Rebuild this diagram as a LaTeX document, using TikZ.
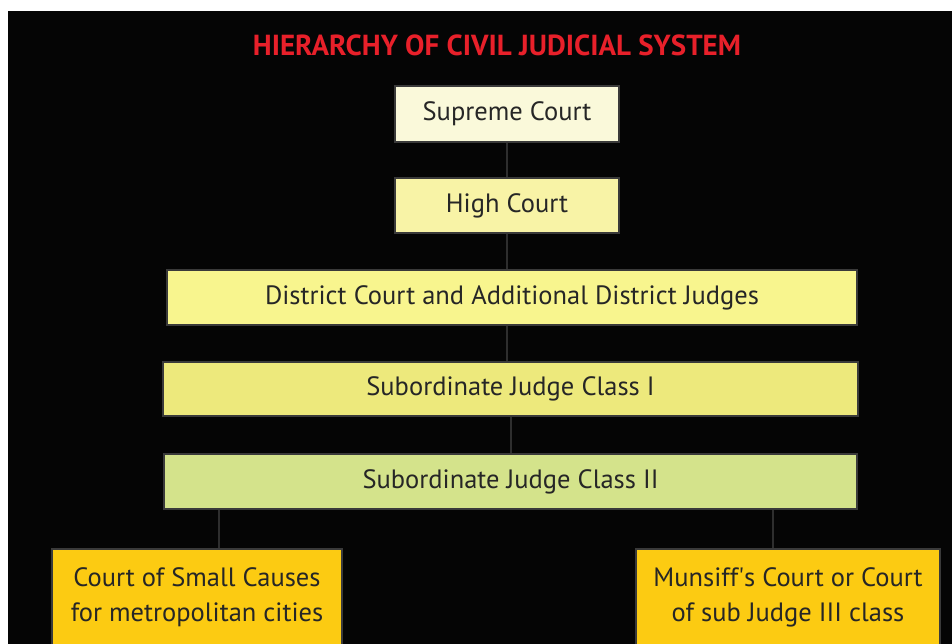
\documentclass[tikz,border=0pt]{standalone}
\usepackage{fontspec}
\setmainfont{PT Sans}
\begin{document}
\begin{tikzpicture}[x=1pt,y=-1pt,
  court/.style={draw=boxedge, line width=1.6pt, inner sep=0pt, align=center,
    text=textdark, font=\fontsize{26.5}{35}\selectfont},
  link/.style={draw=linkgray, line width=2pt}]
\definecolor{boxedge}{HTML}{3A3A3A}
\definecolor{linkgray}{HTML}{2E2E2E}
\definecolor{textdark}{HTML}{262626}
\definecolor{cSupreme}{HTML}{FAF9DA}
\definecolor{cHigh}{HTML}{F8F3A6}
\definecolor{cDistrict}{HTML}{F8F58E}
\definecolor{cSubOne}{HTML}{EDE97C}
\definecolor{cSubTwo}{HTML}{D4E38B}
\definecolor{cLower}{HTML}{FCCB12}
\definecolor{titlered}{HTML}{E8202A}
\useasboundingbox (0,0) rectangle (952,644);
\fill[white] (0,0) rectangle (952,644);
\fill[black!98] (8,11) rectangle (952,644);

\node[font=\bfseries\fontsize{29}{34}\selectfont, text=titlered, inner sep=0pt]
  (title) at (497,45) {HIERARCHY OF CIVIL JUDICIAL SYSTEM};

\node[court, fill=cSupreme, minimum width=224, minimum height=56] (sup) at (507,114) {Supreme Court};
\node[court, fill=cHigh, minimum width=224, minimum height=55] (high) at (507,205.5) {High Court};
\node[court, fill=cDistrict, minimum width=690, minimum height=55] (dist) at (512,297.5) {District Court and Additional District Judges};
\node[court, fill=cSubOne, minimum width=695, minimum height=54] (subone) at (510.5,389) {Subordinate Judge Class I};
\node[court, fill=cSubTwo, minimum width=693, minimum height=55] (subtwo) at (510.5,481.5) {Subordinate Judge Class II};
\node[court, fill=cLower, minimum width=290, minimum height=98] (small) at (197,598) {};
\node[court, fill=cLower, minimum width=304, minimum height=98] (muns) at (788,598) {};
\node[align=center, text=textdark, font=\fontsize{26.5}{35}\selectfont] (smalltxt) at (197,597) {Court of Small Causes\\for metropolitan cities};
\node[align=center, text=textdark, font=\fontsize{26.5}{35}\selectfont] (munstxt) at (788,597) {Munsiff\textquotesingle s Court or Court\\of sub Judge III class};

\coordinate (lx) at (219,0);
\coordinate (rx) at (773,0);
\coordinate (mx) at (511,0);
\draw[link] (sup.south) -- (high.north);
\draw[link] (high.south) -- (dist.north -| high.south);
\draw[link] (dist.south -| high.south) -- (subone.north -| high.south);
\draw[link] (subone.south -| mx) -- (subtwo.north -| mx);
\draw[link] (subtwo.south -| lx) -- (small.north -| lx);
\draw[link] (subtwo.south -| rx) -- (muns.north -| rx);
\end{tikzpicture}
\end{document}
